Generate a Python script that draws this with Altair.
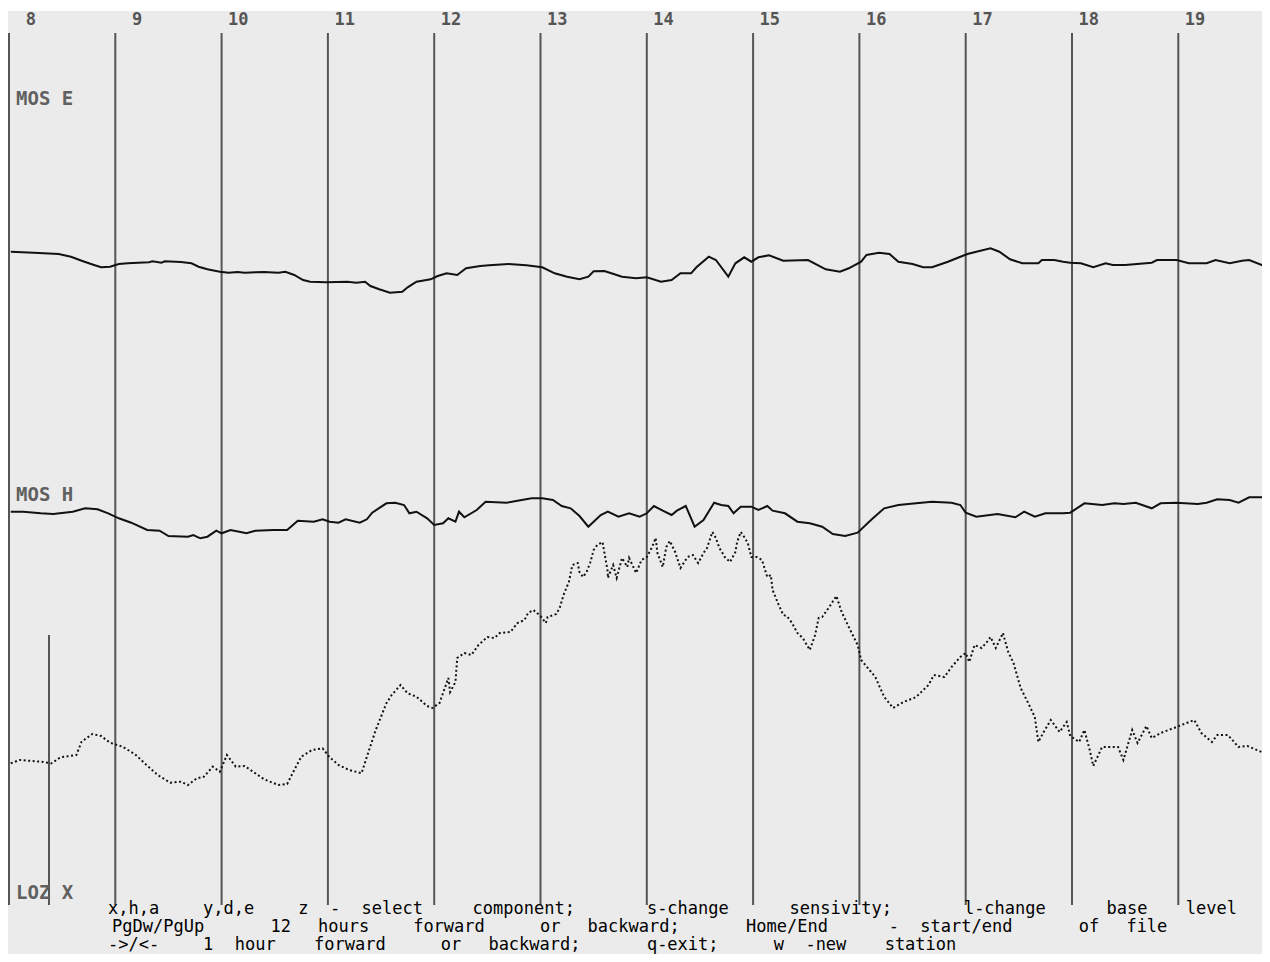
import altair as alt
import pandas as pd

# ---------------- data ----------------
HOURS = list(range(8, 20))
HOUR_LABELS = [str(h) for h in HOURS]

SERIES_LABELS = ["MOS E", "MOS H", "LOZ X"]

# minutes after 08:00 and deviation (display units, up = positive)
E_MIN = [1, 14, 28, 35, 41, 48, 52, 57, 62, 67,
         79, 81, 86, 88, 97, 103, 107, 112, 119, 124,
         129, 133, 144, 152, 156, 161, 166, 170, 179, 191,
         196, 201, 204, 209, 215, 222, 225, 230, 238, 242,
         247, 253, 258, 266, 271, 282, 292, 301, 308, 315,
         322, 327, 330, 336, 340, 346, 354, 360, 368, 374,
         379, 385, 388, 395, 399, 406, 410, 415, 419, 423,
         429, 437, 451, 461, 469, 474, 481, 484, 491, 497,
         502, 510, 516, 521, 530, 537, 541, 546, 554, 559,
         565, 572, 581, 583, 590, 595, 599, 605, 612, 619,
         623, 630, 645, 648, 659, 666, 676, 681, 689, 696,
         700, 707, 711]
E_DEV = [1.3, 0.3, -1, -3.7, -7.7, -12, -14.3, -13.7, -11, -10.3,
         -9.3, -8.3, -9.7, -8.3, -9, -10.3, -13.7, -16.3, -18.7, -19.7,
         -19, -19.7, -19, -19.7, -18.7, -22, -27, -28.7, -29.3, -28.7,
         -29.7, -28.7, -33, -36.3, -39.7, -38.7, -34.3, -28.7, -26.3, -23,
         -20.3, -22, -15.3, -13, -12.3, -11, -12.3, -14.3, -20.3, -23.7,
         -26.3, -23.7, -18.3, -18, -20.3, -23.7, -25.3, -24.3, -28.7, -27,
         -20.3, -20.3, -14.3, -3.7, -7, -23.7, -10.3, -4.3, -8.7, -4.3,
         -2.3, -7.7, -7, -16.3, -18.7, -15.3, -8.7, -2, 0.3, -1,
         -8.7, -11, -14.3, -14.3, -8.7, -3.7, -1, 1.3, 4.7, 1.3,
         -6.3, -10.3, -10.3, -7, -7, -8.7, -9.7, -10.3, -14.3, -10.3,
         -12, -12, -9.7, -7, -7, -10.3, -10.3, -7, -10.3, -7.7,
         -7, -12, -9.7]

H_MIN = [1, 8, 18, 25, 36, 43, 50, 56, 62, 69,
         78, 85, 90, 101, 104, 108, 112, 117, 120, 125,
         130, 134, 139, 149, 157, 163, 172, 177, 181, 186,
         190, 198, 202, 205, 213, 218, 223, 226, 230, 236,
         240, 245, 248, 252, 254, 257, 264, 269, 281, 287,
         295, 301, 307, 312, 317, 322, 327, 334, 338, 344,
         350, 356, 360, 364, 369, 374, 377, 382, 387, 392,
         398, 402, 406, 409, 413, 419, 423, 428, 431, 438,
         445, 452, 459, 465, 472, 479, 487, 494, 502, 512,
         521, 532, 537, 540, 546, 558, 568, 573, 579, 585,
         595, 599, 607, 617, 624, 629, 636, 645, 650, 659,
         671, 676, 682, 689, 694, 700, 711]
H_DEV = [0.3, 0.3, -1.3, -2, 0.3, 3.7, 2.7, -1.3, -6.3, -10.7,
         -18, -18.7, -24, -24.7, -23, -26.3, -24.7, -18.7, -21.3, -18,
         -19.7, -21.3, -18.7, -18, -18, -8.7, -9.7, -7.3, -9.7, -10.7,
         -7.3, -10.7, -7.3, -0.7, 8.7, 9.3, 7, -1.3, 0.3, -6.3,
         -13, -11.3, -6.3, -9.7, 0.3, -5.3, 2, 10.3, 9.3, 11.3,
         13.7, 13.7, 12, 6, 3.7, -4, -14.7, -3, 0.3, -4.7,
         -1.3, -4.7, -1.3, 6, 1.3, -3, 1.3, 6, -14.7, -8,
         9.3, 7, 6, -1.3, 5.3, 5.3, 2, 6, 1.3, -1.3,
         -9.7, -11.3, -14.7, -22, -24, -20.7, -7.3, 3.7, 7, 8.7,
         10.3, 9.3, 7, -0.7, -4.7, -2, -5.3, 0.3, -4.7, -1.3,
         -1.3, -0.7, 8.7, 7, 8.7, 8, 9.3, 3.7, 8.7, 9.3,
         8, 9.3, 12.7, 12, 9.3, 14.7, 14.7]

X_MIN = [1, 6, 18, 24, 29, 38, 41, 47, 52, 57,
         64, 71, 77, 84, 91, 97, 101, 106, 110, 115,
         119, 123, 128, 133, 139, 144, 152, 157, 161, 165,
         171, 177, 181, 186, 192, 199, 202, 207, 213, 216,
         221, 225, 230, 236,
         239, 243, 248, 249, 252, 253, 257, 261, 265, 270,
         274, 277, 283, 287, 291, 293, 296, 300, 303, 304,
         309, 311, 313, 316, 318, 321, 322, 324, 326, 328,
         330, 332, 335, 336, 338, 338, 341, 343, 346, 349,
         350, 354, 357, 360, 363, 365, 366, 369, 371, 373,
         376, 379, 383, 386, 389, 392, 394, 397, 399, 401,
         404, 407, 410, 411, 413, 415, 417, 419, 422, 425,
         428, 430, 431, 434, 437, 439, 442, 445, 448, 452,
         455, 457,
         459, 463, 467, 470, 474, 479, 481, 489, 494, 499,
         505, 512, 519, 522, 528, 532, 537, 540, 542, 545,
         549, 552, 554, 557, 561, 564, 567, 571, 575, 579,
         581, 584, 588, 593, 597, 599, 604, 607, 610, 612,
         617, 626, 629, 634, 637, 642, 645, 650, 659, 669,
         673, 679, 682, 688, 694, 699, 707, 710]
X_DEV = [-0.3, 3, 1.3, -0.3, 5.7, 8, 21.3, 29, 27, 20.3,
         16.3, 9, -1, -12, -19.7, -18.7, -22, -15.3, -13.7, -3.7,
         -8.7, 8, -3.7, -3, -10.3, -16.3, -22, -21, -7, 6.3,
         13, 14.7, 5.7, -2, -7, -10.3, 6.3, 33, 59.7, 68,
         78, 69.7, 66.3, 57,
         55, 60, 85, 71, 81, 105, 110, 108, 118, 126,
         125, 130, 131, 140, 143, 150, 153, 147, 140, 146,
         149, 156, 168, 181, 198, 200, 191, 186, 191, 200,
         213, 218, 221, 211, 191, 185, 198, 185, 205, 196,
         205, 190, 203, 206, 216, 225, 210, 196, 216, 222,
         211, 195, 206, 208, 200, 210, 215, 231, 225, 215,
         206, 201, 211, 221, 231, 226, 220, 206, 206, 203,
         186, 188, 173, 160, 148, 147, 140, 130, 125, 113,
         128, 145,
         146, 156, 167, 151, 136, 118, 103, 86, 66, 55,
         61, 66, 78, 88, 86, 96, 106, 110, 101, 118,
         115, 121, 126, 115, 130, 111, 100, 75, 61, 46,
         21, 31, 43, 31, 41, 27, 21, 33, 13, -3,
         16, 16, 3, 33, 20, 37, 25, 30, 36, 43,
         30, 21, 28, 28, 16, 17, 11, 4]

HELP_LINES = [
    "x,h,a y,d,e z - select component; s-change sensivity; l-change base level",
    "PgDw/PgUp 12 hours forward or backward; Home/End - start/end of file",
    "->/<- 1 hour forward or backward; q-exit; w -new station",
]

# ---------------- layout constants ----------------
W, H = 1254, 943
SERIES_BASE = [701, 442, 191]        # vertical placement of each trace
LABEL_Y = [88, 484, 882]
HELP_X0 = [100, 104, 100]
HELP_Y = [903, 921, 939]
CELL = 15.85

x_scale = alt.Scale(domain=[7.9906, 19.7874], nice=False, zero=False)
y_scale = alt.Scale(domain=[0, H], nice=False, zero=False)

hours_df = pd.DataFrame({"hour": HOURS, "label": HOUR_LABELS})


def trace(name, mins, devs, base):
    return pd.DataFrame({
        "series": name,
        "hour": [8 + m / 60 for m in mins],
        "level": [base + d for d in devs],
        "idx": list(range(len(mins))),
    })


solid_df = pd.concat([
    trace(SERIES_LABELS[0], E_MIN, E_DEV, SERIES_BASE[0]),
    trace(SERIES_LABELS[1], H_MIN, H_DEV, SERIES_BASE[1]),
])
dot_df = trace(SERIES_LABELS[2], X_MIN, X_DEV, SERIES_BASE[2])

# words of the help text, placed on a character grid
rows = []
for li, line in enumerate(HELP_LINES):
    i = 0
    while i < len(line):
        if line[i] == " ":
            i += 1
            continue
        j = i
        while j < len(line) and line[j] != " ":
            j += 1
        rows.append({"word": line[i:j], "px": HELP_X0[li] + i * CELL, "py": HELP_Y[li]})
        i = j
words_df = pd.DataFrame(rows)

labels_df = pd.DataFrame({"name": SERIES_LABELS, "py": LABEL_Y})

X = alt.X("hour:Q", scale=x_scale, axis=None)

rules = alt.Chart(hours_df).mark_rule(color="#555555", strokeWidth=2).encode(
    x=X, y=alt.value(22), y2=alt.value(894)
)

hour_text = alt.Chart(hours_df).mark_text(
    align="right", baseline="middle", dx=27, font="DejaVu Sans Mono",
    fontWeight="bold", fontSize=17, color="#555555"
).encode(x=X, y=alt.value(9), text="label:N")

scale_bar = alt.Chart(hours_df.head(1)).mark_rule(color="#555555", strokeWidth=2).encode(
    x=alt.value(41), y=alt.value(624), y2=alt.value(894)
)

solid = alt.Chart(solid_df).mark_line(color="#111111", strokeWidth=2).encode(
    x=X,
    y=alt.Y("level:Q", scale=y_scale, axis=None),
    detail="series:N",
    order="idx:Q",
)

dotted = alt.Chart(dot_df).mark_line(color="#111111", strokeWidth=2, strokeDash=[2, 2.5]).encode(
    x=X,
    y=alt.Y("level:Q", scale=y_scale, axis=None),
    order="idx:Q",
)

series_text = alt.Chart(labels_df).mark_text(
    align="left", baseline="middle", font="DejaVu Sans Mono", fontWeight="bold",
    fontSize=19, color="#606060"
).encode(x=alt.value(8), y=alt.Y("py:Q", scale=None, axis=None), text="name:N")

help_text = alt.Chart(words_df).mark_text(
    align="left", baseline="alphabetic", font="DejaVu Sans Mono",
    fontSize=17, color="#000000"
).encode(
    x=alt.X("px:Q", scale=None, axis=None),
    y=alt.Y("py:Q", scale=None, axis=None),
    text="word:N",
)

chart = alt.layer(
    rules, scale_bar, solid, dotted, hour_text, series_text, help_text
).resolve_scale(x="independent", y="independent").properties(
    width=W, height=H,
    padding={"left": 0, "top": 3, "right": 0, "bottom": 0},
    autosize=alt.AutoSizeParams(type="none"),
    background="white",
).configure_view(fill="#ebebeb", strokeWidth=0)

chart.save("out.html", embed_options={"renderer": "svg", "actions": False})
